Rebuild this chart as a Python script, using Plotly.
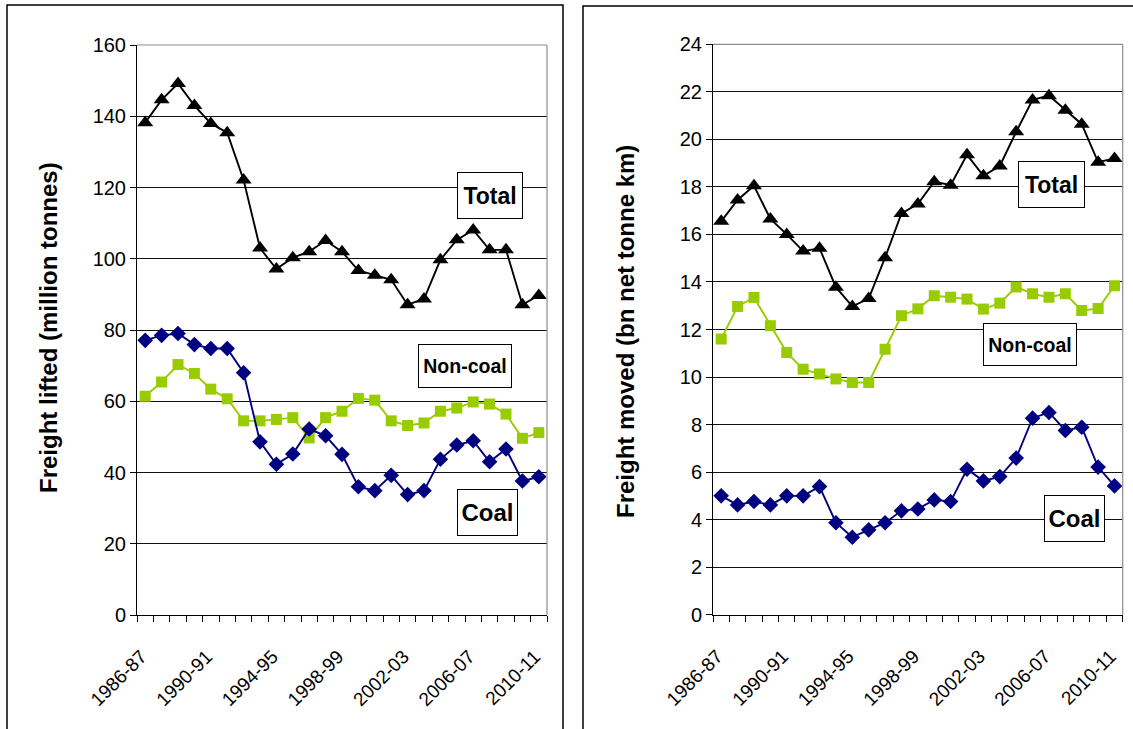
import plotly.graph_objects as go

# Financial years, one category per point
years = ["1986-87", "1987-88", "1988-89", "1989-90", "1990-91", "1991-92", "1992-93",
         "1993-94", "1994-95", "1995-96", "1996-97", "1997-98", "1998-99", "1999-00",
         "2000-01", "2001-02", "2002-03", "2003-04", "2004-05", "2005-06", "2006-07",
         "2007-08", "2008-09", "2009-10", "2010-11"]
label_years = ["1986-87", "1990-91", "1994-95", "1998-99", "2002-03", "2006-07", "2010-11"]

# Freight lifted (million tonnes)
lifted_total = [138.2, 144.6, 149.2, 143.0, 138.0, 135.4, 122.1, 103.0, 97.1, 100.3, 102.0, 105.1, 102.0,
                96.7, 95.4, 94.1, 87.1, 88.7, 99.7, 105.3, 108.1, 102.5, 102.5, 87.1, 89.7]
lifted_coal = [77.1, 78.5, 79.0, 75.9, 74.8, 74.8, 68.0, 48.6, 42.3, 45.2, 52.2, 50.3, 45.1,
               36.0, 34.9, 39.2, 33.8, 34.9, 43.7, 47.7, 48.9, 43.0, 46.6, 37.6, 38.8]
lifted_noncoal = [61.4, 65.4, 70.3, 67.8, 63.4, 60.7, 54.5, 54.5, 54.9, 55.4, 49.7, 55.4, 57.2,
                  60.8, 60.3, 54.5, 53.2, 53.9, 57.2, 58.1, 59.8, 59.2, 56.4, 49.6, 51.2]

# Freight moved (bn net tonne km)
moved_total = [16.55, 17.45, 18.05, 16.65, 16.0, 15.3, 15.42, 13.78, 12.97, 13.3, 15.02, 16.88, 17.28,
               18.22, 18.07, 19.35, 18.47, 18.88, 20.32, 21.66, 21.84, 21.22, 20.64, 19.04, 19.2]
moved_noncoal = [11.6, 12.97, 13.35, 12.16, 11.03, 10.33, 10.13, 9.92, 9.77, 9.77, 11.17, 12.58, 12.87,
                 13.42, 13.36, 13.28, 12.86, 13.11, 13.79, 13.5, 13.36, 13.5, 12.8, 12.88, 13.84]
moved_coal = [5.0, 4.62, 4.76, 4.62, 5.0, 5.0, 5.39, 3.87, 3.26, 3.57, 3.87, 4.37, 4.45,
              4.83, 4.76, 6.12, 5.63, 5.81, 6.59, 8.27, 8.51, 7.75, 7.89, 6.21, 5.42]

W, H = 1133, 729
FONT = "Arial, Liberation Sans, sans-serif"
BLACK = "#000000"
NAVY = "#000080"
GREEN = "#99CC00"

xs = list(range(len(years)))


def px(x):
    return x / W


def py(y):
    return 1 - y / H


def series(xa, ya, values, color, symbol, size, name):
    return go.Scatter(
        x=xs, y=values, xaxis=xa, yaxis=ya, name=name, mode="lines+markers",
        line=dict(color=color, width=1.9),
        marker=dict(symbol=symbol, size=size, color=color),
        customdata=years, hovertemplate="%{customdata}: %{y}<extra>" + name + "</extra>",
    )


fig = go.Figure()
fig.add_trace(series("x", "y", lifted_total, BLACK, "triangle-up", 14, "Total"))
fig.add_trace(series("x", "y", lifted_noncoal, GREEN, "square", 11, "Non-coal"))
fig.add_trace(series("x", "y", lifted_coal, NAVY, "diamond", 12, "Coal"))
fig.add_trace(series("x2", "y2", moved_total, BLACK, "triangle-up", 14, "Total"))
fig.add_trace(series("x2", "y2", moved_noncoal, GREEN, "square", 11, "Non-coal"))
fig.add_trace(series("x2", "y2", moved_coal, NAVY, "diamond", 12, "Coal"))

tickpos = [years.index(y) for y in label_years]


def xaxis(domain, anchor):
    return dict(
        domain=domain, anchor=anchor, range=[-0.5, len(years) - 0.5],
        tickmode="array", tickvals=tickpos, ticktext=label_years, tickangle=-45,
        ticks="outside", ticklen=12, tickcolor="rgba(0,0,0,0)",
        ticklabelstandoff=10, ticklabelshift=-4,
        showgrid=False, zeroline=False, automargin=False,
        showline=True, linecolor=BLACK, linewidth=1,
        tickfont=dict(family=FONT, size=19, color=BLACK),
        minor=dict(tickmode="array", tickvals=[i - 0.5 for i in range(len(years) + 1)],
                   ticks="outside", ticklen=6, tickcolor=BLACK, tickwidth=1, showgrid=False),
        fixedrange=True,
    )


def yaxis(domain, anchor, rng, dtick):
    return dict(
        domain=domain, anchor=anchor, range=rng, dtick=dtick, tick0=0,
        ticks="outside", ticklen=6, tickcolor=BLACK, tickwidth=1,
        showgrid=True, gridcolor="#111111", gridwidth=1, zeroline=False,
        showline=True, linecolor=BLACK, linewidth=1, automargin=False,
        tickfont=dict(family=FONT, size=20, color=BLACK),
        fixedrange=True,
    )


fig.update_layout(
    width=W, height=H,
    margin=dict(l=0, r=0, t=0, b=0, autoexpand=False),
    paper_bgcolor="white", plot_bgcolor="white",
    showlegend=False,
    xaxis=xaxis([px(137), px(547)], "y"),
    yaxis=yaxis([py(615), py(45)], "x", [0, 160], 20),
    xaxis2=xaxis([px(713), px(1122.7)], "y2"),
    yaxis2=yaxis([py(614.7), py(44.3)], "x2", [0, 24], 2),
)

shapes = []
# panel frames
shapes.append(dict(type="rect", xref="paper", yref="paper",
                   x0=px(7), x1=px(563), y0=py(760), y1=py(5),
                   line=dict(color=BLACK, width=1.5), fillcolor="rgba(0,0,0,0)", layer="below"))
shapes.append(dict(type="rect", xref="paper", yref="paper",
                   x0=px(583), x1=px(1160), y0=py(760), y1=py(6),
                   line=dict(color=BLACK, width=1.5), fillcolor="rgba(0,0,0,0)", layer="below"))
# grey top and right edges of each plot area
for xa, ya in (("x", "y"), ("x2", "y2")):
    shapes.append(dict(type="line", xref=xa + " domain", yref=ya + " domain",
                       x0=0, x1=1, y0=1, y1=1, line=dict(color="#8c8c8c", width=1.2), layer="above"))
    shapes.append(dict(type="line", xref=xa + " domain", yref=ya + " domain",
                       x0=1, x1=1, y0=0, y1=1, line=dict(color="#8c8c8c", width=1.2), layer="above"))
fig.update_layout(shapes=shapes)

annotations = []


def boxed(text, cx, cy, w, h, size):
    annotations.append(dict(
        text="<b>" + text + "</b>", xref="paper", yref="paper",
        x=px(cx), y=py(cy), xanchor="center", yanchor="middle",
        showarrow=False, width=w, height=h, align="center", valign="middle",
        bordercolor=BLACK, borderwidth=1, borderpad=0, bgcolor="white",
        font=dict(family=FONT, size=size, color=BLACK),
    ))


boxed("Total", 490, 195.3, 64, 45, 23)
boxed("Non-coal", 465.3, 366.3, 92, 42, 19.5)
boxed("Coal", 487, 512.5, 59, 45, 24)
boxed("Total", 1051.3, 184.2, 65, 45, 23)
boxed("Non-coal", 1030.3, 345, 92, 41, 19.5)
boxed("Coal", 1074, 518, 59, 45, 24)

# axis titles
annotations.append(dict(text="<b>Freight lifted (million tonnes)</b>", xref="paper", yref="paper",
                        x=px(48), y=py(328), xanchor="center", yanchor="middle", textangle=-90,
                        showarrow=False, font=dict(family=FONT, size=24, color=BLACK)))
annotations.append(dict(text="<b>Freight moved (bn net tonne km)</b>", xref="paper", yref="paper",
                        x=px(625), y=py(332), xanchor="center", yanchor="middle", textangle=-90,
                        showarrow=False, font=dict(family=FONT, size=24, color=BLACK)))
fig.update_layout(annotations=annotations)

fig.write_html("out.html")
